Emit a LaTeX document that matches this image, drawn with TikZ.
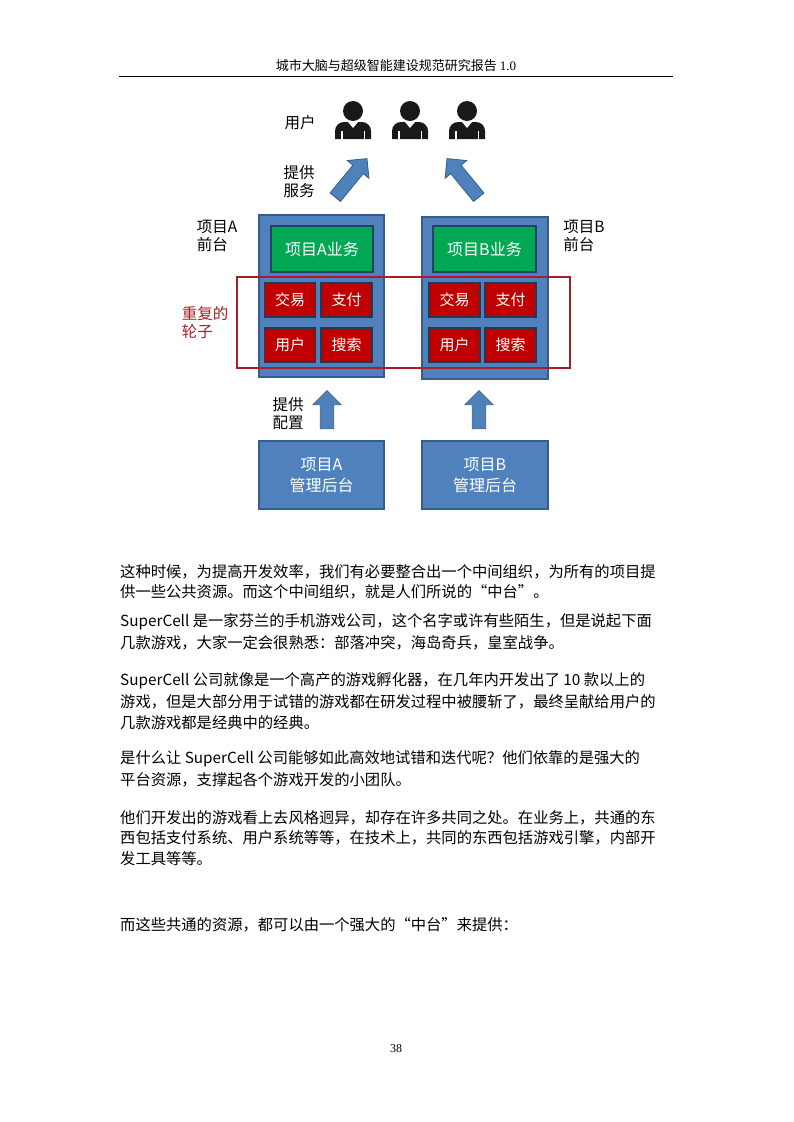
\documentclass[tikz,border=0pt]{standalone}
\usepackage{fontspec}
\setmainfont{Liberation Serif}
\newfontfamily\cjk{Noto Sans CJK SC}
\usetikzlibrary{shapes.arrows}
\definecolor{bfill}{RGB}{79,129,189}
\definecolor{bdraw}{RGB}{56,93,138}
\definecolor{gfill}{RGB}{0,168,84}
\definecolor{rfill}{RGB}{192,0,0}
\definecolor{frame}{RGB}{165,30,40}
\definecolor{icon}{RGB}{25,25,25}
\begin{document}
\begin{tikzpicture}[x=1pt,y=-1pt,
  bluebox/.style={draw=bdraw,line width=1.5pt,fill=bfill},
  greenbox/.style={draw=bdraw!70!black,line width=1.2pt,fill=gfill,text=white,font=\cjk\fontsize{16}{18}\selectfont},
  redbox/.style={draw=bdraw!60!black,line width=1.2pt,fill=rfill,text=white,font=\cjk\fontsize{15}{16}\selectfont},
  lbl/.style={font=\cjk\fontsize{15.5}{18}\selectfont,align=left},
  barrow/.style={single arrow,draw=bdraw,fill=bfill,line width=0.8pt,minimum width=28pt,single arrow head extend=7pt,single arrow tip angle=90,inner xsep=0pt,inner ysep=6pt},
  body/.style={anchor=west,font=\cjk\fontsize{15.3}{20}\selectfont,inner sep=0pt}]
\useasboundingbox (0,0) rectangle (793,1122);
% header
\node (hdr) at (396,66) {\fontsize{13}{15}\selectfont\cjk 城市大脑与超级智能建设规范研究报告\ \rmfamily 1.0};
\draw[line width=0.6pt] (119,76) coordinate (h1) -- (673,76) coordinate (h2);
% users
\foreach \n/\cx in {u1/353,u2/410,u3/467}{
  \fill[icon] (\cx,111) circle (10);
  \fill[icon] (\cx-18,139) -- (\cx-18,131) to[out=90,in=180] (\cx-9,122) -- (\cx+9,122) to[out=0,in=90] (\cx+18,131) -- (\cx+18,139) -- cycle;
  \fill[white] (\cx-5,122) -- (\cx,128) -- (\cx+5,122) -- cycle;
  \fill[white] (\cx-12,131) rectangle (\cx-10.5,139);
  \fill[white] (\cx+10.5,131) rectangle (\cx+12,139);
  \coordinate (\n) at (\cx,124);
}
\node[lbl] (lu) at (300,123) {用户};
% fronts
\draw[bluebox] (259,215) rectangle (384,377); \coordinate (fa) at (321,215);
\draw[bluebox] (422,217) rectangle (548,379); \coordinate (fb) at (485,217);
\node[greenbox,minimum width=102pt,minimum height=46pt] (ga) at (322,249) {项目A业务};
\node[greenbox,minimum width=103pt,minimum height=46pt] (gb) at (484.5,249) {项目B业务};
\foreach \n/\x/\y/\t in {a1/290/300/交易,a2/346.5/300/支付,a3/290/345/用户,a4/346.5/345/搜索,
  b1/454.5/300/交易,b2/510.5/300/支付,b3/454.5/345/用户,b4/510.5/345/搜索}{
  \node[redbox,minimum width=51pt,minimum height=34pt] (\n) at (\x,\y) {\t};
}
\draw[frame,line width=1.6pt] (237,277) rectangle (570,368);
\node (fr) at (403,277) {};
\node[lbl,text=frame] (lw) at (205,323) {重复的\\轮子};
\node[lbl] (lfa) at (217,236) {项目A\\前台};
\node[lbl] (lfb) at (584,236) {项目B\\前台};
% arrows up diag
\node[barrow,minimum height=50pt,rotate=50.6] (da) at (349,180.5) {};
\node[barrow,minimum height=50pt,rotate=129.4] (db) at (465,180.5) {};
\node[lbl] (ls) at (299,182) {提供\\服务};
% back offices
\node[bluebox,minimum width=125pt,minimum height=68pt,text=white,font=\cjk\fontsize{16}{21}\selectfont,align=center] (ma) at (321.5,475) {项目A\\管理后台};
\node[bluebox,minimum width=126pt,minimum height=68pt,text=white,font=\cjk\fontsize{16}{21}\selectfont,align=center] (mb) at (485,475) {项目B\\管理后台};
\node[barrow,minimum height=38pt,rotate=90] (pa) at (327,413) {};
\node[barrow,minimum height=38pt,rotate=90] (pb) at (479,413) {};
\node[lbl] (lc) at (288,414) {提供\\配置};
% body text
\node[body] (t1) at (120,572) {这种时候，为提高开发效率，我们有必要整合出一个中间组织，为所有的项目提};
\node[body] (t2) at (120,592) {供一些公共资源。而这个中间组织，就是人们所说的“中台”。};
\node[body] (t3) at (120,622) {SuperCell\ 是一家芬兰的手机游戏公司，这个名字或许有些陌生，但是说起下面};
\node[body] (t4) at (120,643) {几款游戏，大家一定会很熟悉：部落冲突，海岛奇兵，皇室战争。};
\node[body] (t5) at (120,681) {SuperCell\ 公司就像是一个高产的游戏孵化器，在几年内开发出了\ 10\ 款以上的};
\node[body] (t6) at (120,702) {游戏，但是大部分用于试错的游戏都在研发过程中被腰斩了，最终呈献给用户的};
\node[body] (t7) at (120,723) {几款游戏都是经典中的经典。};
\node[body] (t8) at (120,759) {是什么让\ SuperCell\ 公司能够如此高效地试错和迭代呢？他们依靠的是强大的};
\node[body] (t9) at (120,780) {平台资源，支撑起各个游戏开发的小团队。};
\node[body] (t10) at (120,818) {他们开发出的游戏看上去风格迥异，却存在许多共同之处。在业务上，共通的东};
\node[body] (t11) at (120,838) {西包括支付系统、用户系统等等，在技术上，共同的东西包括游戏引擎，内部开};
\node[body] (t12) at (120,859) {发工具等等。};
\node[body] (t13) at (120,925) {而这些共通的资源，都可以由一个强大的“中台”来提供：};
\node (pg) at (396,1049) {\fontsize{12}{14}\selectfont 38};
\end{tikzpicture}
\end{document}
